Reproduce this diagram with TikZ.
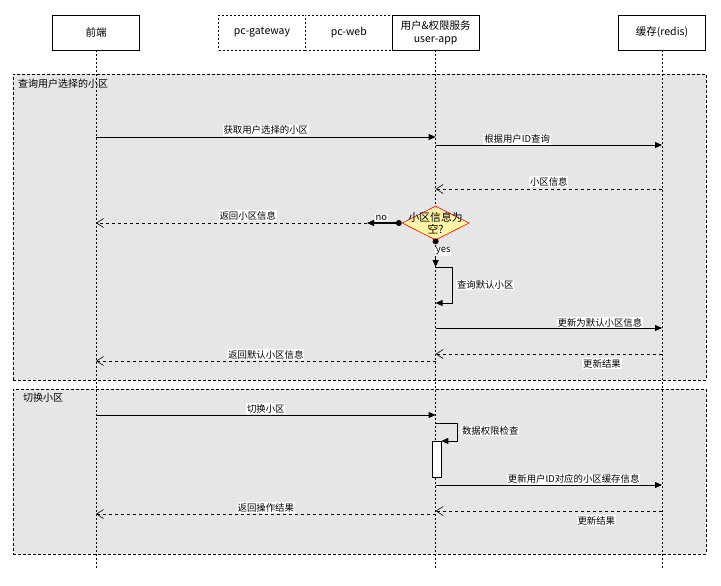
\documentclass[tikz,border=0pt]{standalone}
\usepackage{fontspec}
\setmainfont{Noto Sans CJK SC}
\usetikzlibrary{positioning}
\usetikzlibrary{arrows.meta}
\usetikzlibrary{shapes.geometric}
\definecolor{framegray}{HTML}{E6E6E6}
\definecolor{decfill}{HTML}{FFF4A8}
\tikzset{actor/.style={rectangle,draw=black,fill=white,align=center,
inner sep=2pt,minimum height=35pt, minimum width=87pt,font=\fontsize{10.5}{13}\selectfont}}
\tikzset{actordash/.style={actor,dash pattern=on 2pt off 2pt}}
\tikzset{lifeline/.style={line width=0.7pt,dash pattern=on 2pt off 2pt}}
\tikzset{groupbox/.style={rectangle,draw=black,fill=framegray,anchor=north west,
line width=0.7pt,dash pattern=on 3pt off 2pt}}
\tikzset{grouplabel/.style={anchor=north west,inner sep=1pt,font=\fontsize{10}{12}\selectfont}}
\tikzset{call/.style={line width=0.8pt,-{Triangle[length=7pt,width=6pt]}}}
\tikzset{reply/.style={line width=0.7pt,dash pattern=on 3pt off 3pt,
-{Straight Barb[length=7pt,width=9pt,line width=0.6pt]}}}
\tikzset{msg/.style={rectangle,draw=none,fill=white,
inner sep=0.8pt,font=\fontsize{9.4}{11}\selectfont}}
\tikzset{decision/.style={diamond,draw=red,fill=decfill,line width=0.6pt,
inner sep=0pt,minimum width=67pt,minimum height=34pt}}
\tikzset{dot/.style={circle,fill=black,inner sep=0pt,minimum size=6pt}}

\begin{document}
\begin{tikzpicture}[x=1pt,y=-1pt]
    \useasboundingbox (0,0) rectangle (721,586);

    % groups
    \node[groupbox,minimum width=693pt,minimum height=306pt] (grpQuery) at (13,74) {};
    \node[grouplabel] at ([xshift=4pt,yshift=-4pt]grpQuery.north west) {查询用户选择的小区};
    \node[groupbox,minimum width=693pt,minimum height=165pt] (grpSwitch) at (13,389) {};
    \node[grouplabel] at ([xshift=9pt,yshift=-3pt]grpSwitch.north west) {切换小区};

    % participants
    \node[actor] (boxFront) at (96,32.5) {前端};
    \node[actordash] (boxGateway) at (262,32.5) {pc-gateway};
    \node[actordash] (boxWeb) [right=-0.6pt of boxGateway] {pc-web};
    \node[actor] (boxUser) [right=-0.6pt of boxWeb] {用户\&权限服务\\user-app};
    \node[actor] (boxCache) at (662,32.5) {缓存(redis)};

    \coordinate (lifeEnd) at (0,569);
    \draw[lifeline] (boxFront.south) -- (boxFront |- lifeEnd);
    \draw[lifeline] (boxUser.south) -- (boxUser |- lifeEnd);
    \draw[lifeline] (boxCache.south) -- (boxCache |- lifeEnd);

    % rows
    \coordinate (rowGet) at (0,137);
    \coordinate (rowAsk) at (0,145);
    \coordinate (rowInfo) at (0,189);
    \coordinate (rowDec) at (0,223);
    \coordinate (rowYes) at (0,267);
    \coordinate (rowQEnd) at (0,303);
    \coordinate (rowUpd) at (0,328);
    \coordinate (rowUpdRes) at (0,354);
    \coordinate (rowRetDef) at (0,361);
    \coordinate (rowSwitch) at (0,415);
    \coordinate (rowChk) at (0,423);
    \coordinate (rowCacheUpd) at (0,485);
    \coordinate (rowRes) at (0,511);
    \coordinate (rowRet) at (0,514);

    \draw[call] (boxFront |- rowGet) --node[msg, above=1pt] {获取用户选择的小区} (boxUser |- rowGet);
    \draw[call] (boxUser |- rowAsk) --node[msg, pos=0.36, above=0pt] {根据用户ID查询} (boxCache |- rowAsk);
    \draw[reply] (boxCache |- rowInfo) --node[msg, above=2pt] {小区信息} (boxUser |- rowInfo);

    % decision
    \node[decision] (decEmpty) at (boxUser |- rowDec) {};
    \node[font=\fontsize{10.8}{12.5}\selectfont,align=center,inner sep=0pt] (decText) at (decEmpty) {小区信息为\\空?};
    \node[dot] (noDot) at ([xshift=-3pt]decEmpty.west) {};
    \node[dot] (yesDot) at ([yshift=-1pt]decEmpty.south) {};
    \coordinate (noEnd) at (367,223);
    \draw[call,line width=1.1pt] (noDot) --node[msg, above=1pt] {no} (noEnd);
    \draw[reply] (noEnd) --node[msg, pos=0.44, above=2pt] {返回小区信息} (boxFront |- noEnd);
    \draw[call,line width=1.1pt] (yesDot) --node[msg, pos=0.3, anchor=west, xshift=-1pt] {yes} (boxUser |- rowYes);

    \draw[call] (boxUser |- rowYes) -- ++(17,0) -- ++(0,36) -- (boxUser |- rowQEnd);
    \node[msg, anchor=west] (lblQuery) at (456,285) {查询默认小区};

    \draw[call] (boxUser |- rowUpd) --node[msg, pos=0.726, above=0pt] {更新为默认小区信息} (boxCache |- rowUpd);
    \draw[reply] (boxCache |- rowUpdRes) --node[msg, pos=0.265, below=4pt] {更新结果} (boxUser |- rowUpdRes);
    \draw[reply] (boxUser |- rowRetDef) --node[msg, above=1pt] {返回默认小区信息} (boxFront |- rowRetDef);

    % switch
    \draw[call] (boxFront |- rowSwitch) --node[msg, above=1pt] {切换小区} (boxUser |- rowSwitch);
    \node[rectangle,draw=black,fill=white,line width=0.7pt,minimum width=9pt,minimum height=36pt,
        inner sep=0pt,anchor=north] (actCheck) at (436.5,441) {};
    \draw[call] (boxUser |- rowChk) -- ++(22,0) -- ++(0,18) -- (actCheck.north east);
    \node[msg, anchor=west] (lblCheck) at (461,431) {数据权限检查};
    \draw[call] (boxUser |- rowCacheUpd) --node[msg, pos=0.61, above=0pt] {更新用户ID对应的小区缓存信息} (boxCache |- rowCacheUpd);
    \draw[reply] (boxCache |- rowRes) --node[msg, pos=0.29, below=4pt] {更新结果} (boxUser |- rowRes);
    \draw[reply] (boxUser |- rowRet) --node[msg, above=1pt] {返回操作结果} (boxFront |- rowRet);

\end{tikzpicture}
\end{document}
